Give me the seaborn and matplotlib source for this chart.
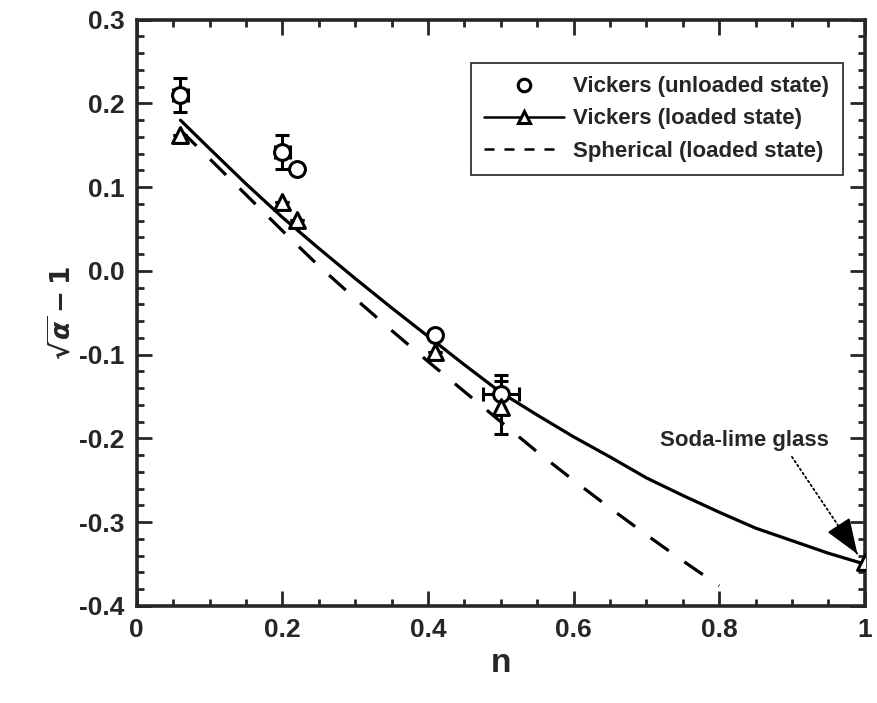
import matplotlib
matplotlib.use("Agg")
import matplotlib.pyplot as plt
from matplotlib.ticker import MultipleLocator
from matplotlib.lines import Line2D
import pandas as pd
import seaborn as sns

# Vickers, unloaded state (open circles)
n_unload = [0.06, 0.20, 0.22, 0.41, 0.50]
y_unload = [0.21, 0.142, 0.122, -0.077, -0.147]
xerr_unload = [0.01, 0.01, 0.0, 0.0, 0.025]
yerr_unload = [0.02, 0.02, 0.0, 0.0, 0.023]

# Vickers, loaded state (open triangles)
n_load = [0.06, 0.20, 0.22, 0.41, 0.50, 1.0]
y_load = [0.162, 0.082, 0.061, -0.097, -0.163, -0.348]
yerr_load = [0.0, 0.0, 0.0, 0.0, 0.032, 0.0]

# fitted curves
n_solid = [0.06, 0.10, 0.15, 0.20, 0.25, 0.30, 0.35, 0.40, 0.45, 0.50,
           0.55, 0.60, 0.65, 0.70, 0.75, 0.80, 0.85, 0.90, 0.95, 1.00]
y_solid = [0.18, 0.146, 0.104, 0.064, 0.027, -0.009, -0.044, -0.078, -0.112, -0.145,
           -0.172, -0.198, -0.222, -0.247, -0.268, -0.288, -0.307, -0.322, -0.337, -0.35]
n_dash = [0.06, 0.10, 0.15, 0.20, 0.25, 0.30, 0.35, 0.40, 0.45, 0.50,
          0.55, 0.60, 0.65, 0.70, 0.75, 0.80]
y_dash = [0.168, 0.134, 0.091, 0.048, 0.006, -0.033, -0.071, -0.108, -0.144, -0.18,
          -0.216, -0.25, -0.283, -0.315, -0.346, -0.376]

x_ticks = [0, 0.2, 0.4, 0.6, 0.8, 1.0]
x_ticklabels = ['0', '0.2', '0.4', '0.6', '0.8', '1']
y_ticks = [-0.4, -0.3, -0.2, -0.1, 0.0, 0.1, 0.2, 0.3]
y_ticklabels = ['-0.4', '-0.3', '-0.2', '-0.1', '0.0', '0.1', '0.2', '0.3']

sns.set_style("ticks")
plt.rcParams['font.family'] = ['Liberation Sans', 'DejaVu Sans']
plt.rcParams['font.weight'] = 'bold'
plt.rcParams['mathtext.fontset'] = 'dejavusans'

fig = plt.figure(figsize=(8.77, 7.03), dpi=100)
ax = fig.add_axes([0.156, 0.138, 0.830, 0.834])

sns.lineplot(x=n_solid, y=y_solid, ax=ax, color='black', lw=2.3, sort=False)
sns.lineplot(x=n_dash, y=y_dash, ax=ax, color='black', lw=2.3, sort=False,
             linestyle=(0, (7, 6)))

ax.errorbar(n_unload, y_unload, xerr=xerr_unload, yerr=yerr_unload, fmt='none',
            ecolor='black', elinewidth=2.2, capsize=5, capthick=2.2, zorder=3)
ax.errorbar(n_load, y_load, yerr=yerr_load, fmt='none',
            ecolor='black', elinewidth=2.2, capsize=5, capthick=2.2, zorder=3)

df_u = pd.DataFrame({'n': n_unload, 'y': y_unload})
df_l = pd.DataFrame({'n': n_load, 'y': y_load})
sns.scatterplot(data=df_u, x='n', y='y', ax=ax, marker='o', s=130,
                facecolor='white', edgecolor='black', linewidth=2.2, zorder=4)
sns.scatterplot(data=df_l, x='n', y='y', ax=ax, marker='^', s=130,
                facecolor='white', edgecolor='black', linewidth=2.2, zorder=4)

ax.set_xlim(0, 1)
ax.set_ylim(-0.4, 0.3)
ax.xaxis.set_minor_locator(MultipleLocator(0.05))
ax.yaxis.set_minor_locator(MultipleLocator(0.02))
ax.set_xticks(x_ticks)
ax.set_xticklabels(x_ticklabels)
ax.set_yticks(y_ticks)
ax.set_yticklabels(y_ticklabels)
ax.tick_params(which='both', direction='in', top=True, right=True, width=2)
ax.tick_params(which='major', length=11, labelsize=19, pad=9)
ax.tick_params(which='minor', length=5)
for sp in ax.spines.values():
    sp.set_linewidth(2.6)

ax.set_xlabel('n', fontsize=24, fontweight='bold', labelpad=4)
ax.set_ylabel(r'$\sqrt{\alpha}-1$', fontsize=19, labelpad=2)

# annotation: dotted shaft + solid filled head
ax.text(0.835, -0.202, 'Soda-lime glass', ha='center', va='center',
        fontsize=16, fontweight='bold')
ax.annotate('', xy=(0.99, -0.338), xytext=(0.9, -0.222),
            arrowprops=dict(arrowstyle='-', color='black', lw=1.3,
                            linestyle=':', shrinkA=0, shrinkB=0))
ax.annotate('', xy=(0.99, -0.338), xytext=(0.975, -0.318),
            arrowprops=dict(arrowstyle='-|>,head_length=0.8,head_width=0.3',
                            mutation_scale=28, color='black', lw=1.3,
                            shrinkA=0, shrinkB=0))

handles = [
    Line2D([], [], marker='o', ls='none', mfc='white', mec='black', mew=2.2, ms=9),
    Line2D([], [], marker='^', ls='-', color='black', mfc='white', mec='black',
           mew=2.2, ms=9, lw=1.8),
    Line2D([], [], ls=(0, (4, 4)), color='black', lw=1.8),
]
leg = ax.legend(handles, ['Vickers (unloaded state)', 'Vickers (loaded state)',
                          'Spherical (loaded state)'],
                loc='upper right', bbox_to_anchor=(0.985, 0.945), fontsize=16,
                frameon=True, fancybox=False, edgecolor='black',
                handlelength=3.6, handletextpad=0.4, borderpad=0.6, labelspacing=0.5)
leg.get_frame().set_linewidth(1.3)

fig.savefig('out.png', dpi=100)
